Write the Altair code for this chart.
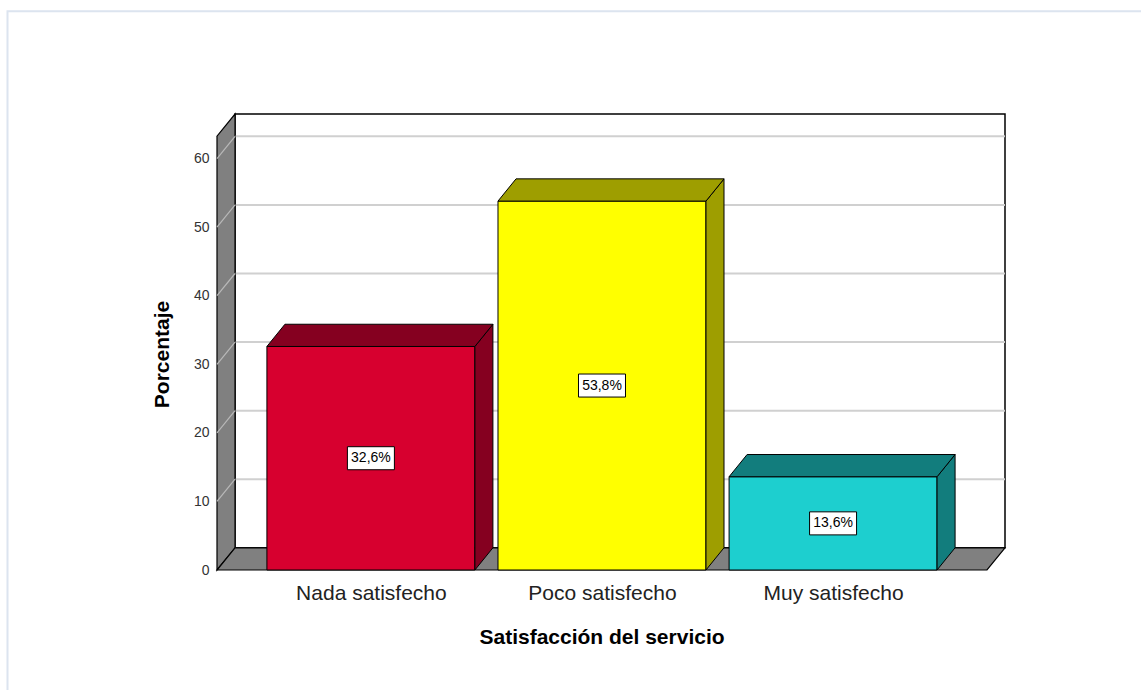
import json
import altair as alt
import pandas as pd

# ---------------- data ----------------
categories = ["Nada satisfecho", "Poco satisfecho", "Muy satisfecho"]
percentages = [32.6, 53.8, 13.6]
value_labels = ["32,6%", "53,8%", "13,6%"]
front_colors = ["#D7002F", "#FFFF00", "#1DCFCF"]
shade_colors = ["#850020", "#9E9E00", "#127D7D"]
y_ticks = [0, 10, 20, 30, 40, 50, 60]

# ---------------- geometry (data units) ----------------
BAR_HALF = 0.45          # half bar width (category spacing = 1)
X0 = -0.666              # front-left edge of floor
X1 = 2.666               # front-right edge of floor
DX = 0.078               # depth offset in x units
DY = 3.24                # depth offset in y units
YMAX = 66.5              # top of back wall (back plane)
WALL_TOP = YMAX - DY     # top of wall in front-plane units
XMAX = X1 + DX

xs = alt.Scale(domain=[X0, XMAX], nice=False, zero=False)
ys = alt.Scale(domain=[0, YMAX], nice=False, zero=False)
FONT = "Liberation Sans"

idx = list(range(len(categories)))

bars = pd.DataFrame({
    "i": idx,
    "cat": categories,
    "v": percentages,
    "x0": [i - BAR_HALF for i in idx],
    "x1": [i + BAR_HALF for i in idx],
    "front": front_colors,
    "shade": shade_colors,
    "half": [v / 2 for v in percentages],
    "lab": value_labels,
})

side_rows, top_rows = [], []
for i, v, s in zip(idx, percentages, shade_colors):
    side_rows.append({"i": i, "x": i + BAR_HALF, "lo": 0.0, "hi": v, "shade": s})
    side_rows.append({"i": i, "x": i + BAR_HALF + DX, "lo": DY, "hi": v + DY, "shade": s})
    top_rows.append({"i": i, "y": v, "xl": i - BAR_HALF, "xr": i + BAR_HALF, "shade": s})
    top_rows.append({"i": i, "y": v + DY, "xl": i - BAR_HALF + DX, "xr": i + BAR_HALF + DX, "shade": s})
side = pd.DataFrame(side_rows)
top = pd.DataFrame(top_rows)

wall = pd.DataFrame({"x": [X0, X0 + DX], "lo": [0.0, DY], "hi": [WALL_TOP, WALL_TOP + DY]})
floor = pd.DataFrame({"y": [0.0, DY], "xl": [X0, X0 + DX], "xr": [X1, X1 + DX]})
back = pd.DataFrame({"xl": [X0 + DX], "xr": [XMAX], "yl": [DY], "yh": [YMAX]})
grid = pd.DataFrame({
    "v": y_ticks[1:],
    "yb": [v + DY for v in y_ticks[1:]],
    "xf": [X0] * (len(y_ticks) - 1),
    "xb": [X0 + DX] * (len(y_ticks) - 1),
    "xe": [XMAX] * (len(y_ticks) - 1),
})

one = pd.DataFrame({"a": [0]})

# ---------------- layers ----------------
frame = alt.Chart(one).mark_rect(fillOpacity=0, stroke="#DCE4EF", strokeWidth=2).encode(
    x=alt.value(-209.5), x2=alt.value(940), y=alt.value(-102.8), y2=alt.value(600)
)

back_wall = alt.Chart(back).mark_rect(fill="white", stroke="black", strokeWidth=1.5).encode(
    x=alt.X("xl:Q", scale=xs, axis=None), x2="xr:Q",
    y=alt.Y("yl:Q", scale=ys, axis=None), y2="yh:Q",
)

back_grid = alt.Chart(grid).mark_rule(color="#D0D0D0", strokeWidth=2).encode(
    x=alt.X("xb:Q", scale=xs, axis=None), x2="xe:Q",
    y=alt.Y("yb:Q", scale=ys, axis=None),
)

left_wall = alt.Chart(wall).mark_area(orient="vertical", fill="#808080", stroke="black",
                                      strokeWidth=1.2, opacity=1).encode(
    x=alt.X("x:Q", scale=xs, axis=None),
    y=alt.Y("lo:Q", scale=ys, axis=None, stack=None), y2="hi:Q",
)

wall_grid = alt.Chart(grid).mark_rule(color="#B8B8B8", strokeWidth=1.2).encode(
    x=alt.X("xf:Q", scale=xs, axis=None), x2="xb:Q",
    y=alt.Y("v:Q", scale=ys, axis=None), y2="yb:Q",
)

floor_l = alt.Chart(floor).mark_area(orient="horizontal", fill="#808080", stroke="black",
                                     strokeWidth=1.2, opacity=1).encode(
    y=alt.Y("y:Q", scale=ys, axis=None, stack=None),
    x=alt.X("xl:Q", scale=xs, axis=None), x2="xr:Q",
)

ticks_lab = json.dumps(categories) + "[datum.value]"

front_l = alt.Chart(bars).mark_rect(stroke="black", strokeWidth=1).encode(
    x=alt.X("x0:Q", scale=xs, axis=alt.Axis(
        values=idx, labelExpr=ticks_lab, title="Satisfacción del servicio",
        grid=False, domain=False, ticks=False, labelFlush=False, labelOverlap=False,
        labelPadding=29, labelBaseline="alphabetic", labelFont=FONT, labelFontSize=21,
        labelColor="#222222", titleFont=FONT, titleFontSize=21, titleFontWeight="bold",
        titleColor="black", titleX=384.5, titleY=73, titleAlign="center",
        titleBaseline="alphabetic")),
    x2="x1:Q",
    y=alt.Y("v:Q", scale=ys, axis=alt.Axis(
        values=y_ticks, title="Porcentaje", grid=False, domain=False, ticks=False,
        labelPadding=8, labelFont=FONT, labelFontSize=14, labelColor="#333333",
        labelBaseline="middle",
        titleFont=FONT, titleFontSize=21, titleFontWeight="bold", titleColor="black",
        titleX=-55, titleY=240, titleAngle=-90, titleAlign="center",
        titleBaseline="middle")),
    y2=alt.datum(0),
    color=alt.Color("front:N", scale=None),
)

side_l = alt.Chart(side).mark_area(orient="vertical", stroke="black", strokeWidth=1,
                                   opacity=1).encode(
    x=alt.X("x:Q", scale=xs, axis=None),
    y=alt.Y("lo:Q", scale=ys, axis=None, stack=None), y2="hi:Q",
    detail="i:N",
    color=alt.Color("shade:N", scale=None),
)

top_l = alt.Chart(top).mark_area(orient="horizontal", stroke="black", strokeWidth=1,
                                 opacity=1).encode(
    y=alt.Y("y:Q", scale=ys, axis=None, stack=None),
    x=alt.X("xl:Q", scale=xs, axis=None), x2="xr:Q",
    detail="i:N",
    color=alt.Color("shade:N", scale=None),
)

box = alt.Chart(bars).mark_point(shape="M-1,-0.49H1V0.49H-1Z", size=47 * 47, filled=True,
                                 fill="white", stroke="black", strokeWidth=1,
                                 opacity=1).encode(
    x=alt.X("i:Q", scale=xs, axis=None),
    y=alt.Y("half:Q", scale=ys, axis=None),
)

txt = alt.Chart(bars).mark_text(font=FONT, fontSize=14, color="black", align="center",
                                baseline="middle").encode(
    x=alt.X("i:Q", scale=xs, axis=None),
    y=alt.Y("half:Q", scale=ys, axis=None),
    text="lab:N",
)

chart = alt.layer(
    frame, back_wall, back_grid, left_wall, wall_grid, floor_l,
    front_l, side_l, top_l, box, txt
).resolve_axis(
    x="independent", y="independent"
).properties(
    width=788, height=456,
    autosize=alt.AutoSizeParams(type="none"),
    padding={"left": 217, "top": 114, "right": 136, "bottom": 120},
    background="white",
).configure_view(stroke=None)

chart.save("out.html", embed_options={"renderer": "svg", "actions": False})
